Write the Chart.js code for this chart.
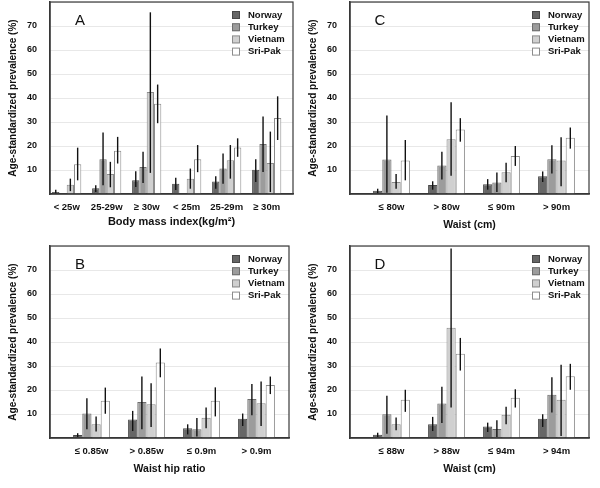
<!DOCTYPE html>
<html>
<head>
<meta charset="utf-8">
<script src="https://cdn.jsdelivr.net/npm/chart.js@4.4.1/dist/chart.umd.min.js"></script>
<style>
  body { margin: 0; background: #fff; }
  #wrap { width: 600px; height: 488px; display: grid; grid-template-columns: 300px 300px; grid-template-rows: 244px 244px; }
  canvas { display: block; }
</style>
</head>
<body>
<div id="wrap">
  <canvas id="chartA" width="300" height="244"></canvas>
  <canvas id="chartC" width="300" height="244"></canvas>
  <canvas id="chartB" width="300" height="244"></canvas>
  <canvas id="chartD" width="300" height="244"></canvas>
</div>
<script>
// --- data (rows: Norway, Turkey, Vietnam, Sri-Pak) ---
const countries = ['Norway', 'Turkey', 'Vietnam', 'Sri-Pak'];
const yTicks = [10, 20, 30, 40, 50, 60, 70];

const catsA = ['< 25w', '25-29w', '\u2265 30w', '< 25m', '25-29m', '\u2265 30m'];
const valuesA = [
    [0.8, 2.4, 5.7, 4.3, 5.2, 10.1],
    [null, 14.5, 11.3, null, 10.6, 20.8],
    [3.9, 8.3, 42.5, 6.4, 14.1, 12.9],
    [12.4, 18.0, 37.6, 14.5, 19.4, 31.7]
];
const lowA = [
    [0.2, 0.8, 2.9, 1.7, 2.2, 5.0],
    [null, 3.6, 4.6, null, 4.3, 9.2],
    [1.2, 2.8, 8.8, 2.2, 6.4, 0.8],
    [5.7, 12.7, 29.5, 9.1, 15.5, 22.5]
];
const highA = [
    [1.8, 3.6, 9.5, 6.8, 7.4, 14.5],
    [null, 25.6, 17.6, null, 16.9, 32.3],
    [6.4, 13.4, 75.7, 10.6, 20.4, 26.0],
    [19.3, 23.8, 45.6, 20.4, 23.2, 40.7]
];

const catsC = ['\u2264 80w', '> 80w', '\u2264 90m', '> 90m'];
const valuesC = [
    [1.4, 3.8, 4.1, 7.4],
    [14.4, 11.9, 4.8, 14.5],
    [5.0, 22.8, 9.1, 14.0],
    [14.0, 26.9, 15.8, 23.4]
];
const lowC = [
    [0.3, 1.8, 1.8, 5.0],
    [0.5, 6.0, 0.8, 8.5],
    [2.2, 7.6, 4.9, 3.2],
    [5.7, 21.8, 11.7, 18.9]
];
const highC = [
    [2.2, 5.3, 6.2, 9.4],
    [32.7, 17.6, 9.0, 20.3],
    [8.3, 38.2, 13.0, 23.6],
    [22.5, 31.6, 20.0, 27.7]
];

const catsB = ['\u2264 0.85w', '> 0.85w', '\u2264 0.9m', '> 0.9m'];
const valuesB = [
    [1.3, 7.7, 4.1, 8.0],
    [10.2, 15.0, 3.6, 16.2],
    [5.7, 14.1, 8.4, 14.5],
    [15.5, 31.5, 15.5, 22.1]
];
const lowB = [
    [0.4, 2.9, 1.5, 5.0],
    [3.6, 3.6, 0.6, 9.5],
    [2.7, 4.6, 4.1, 5.0],
    [10.1, 25.3, 9.0, 18.3]
];
const highB = [
    [2.0, 11.3, 5.7, 10.2],
    [16.6, 25.6, 8.3, 22.5],
    [9.0, 22.8, 12.7, 23.5],
    [21.0, 37.3, 21.1, 25.6]
];

const catsD = ['\u2264 88w', '> 88w', '\u2264 94m', '> 94m'];
const valuesD = [
    [1.4, 5.7, 4.8, 8.0],
    [9.9, 14.4, 3.8, 18.0],
    [5.7, 45.9, 9.7, 15.9],
    [15.9, 35.1, 16.8, 25.7]
];
const lowD = [
    [0.4, 2.9, 2.5, 4.6],
    [1.8, 6.2, 0.4, 10.6],
    [3.2, 12.7, 5.7, 0.8],
    [10.9, 28.1, 12.7, 20.1]
];
const highD = [
    [2.2, 8.8, 6.4, 9.9],
    [17.6, 21.4, 7.4, 25.3],
    [8.5, 79.0, 13.0, 30.5],
    [20.1, 41.7, 20.3, 30.9]
];

// --- styles ---
const FONT = "'Liberation Sans', Arial, sans-serif";
const fills = ['#666666', '#9c9c9c', '#d0d0d0', '#ffffff'];
const borders = ['#474747', '#6e6e6e', '#8c8c8c', '#8c8c8c'];

// error bars, frame, legend and panel letter
const extrasPlugin = {
    id: 'extras',
    afterDatasetsDraw(chart, args, opts) {
        const ctx = chart.ctx;
        const yScale = chart.scales.y;
        ctx.save();
        ctx.strokeStyle = '#111';
        ctx.lineWidth = 1.4;
        chart.data.datasets.forEach(function(ds, i) {
            const meta = chart.getDatasetMeta(i);
            meta.data.forEach(function(bar, j) {
                const lo = ds.low[j], hi = ds.high[j];
                if (lo == null || hi == null) return;
                ctx.beginPath();
                ctx.moveTo(bar.x, yScale.getPixelForValue(lo));
                ctx.lineTo(bar.x, yScale.getPixelForValue(hi));
                ctx.stroke();
            });
        });
        ctx.restore();
    },
    afterDraw(chart, args, opts) {
        const ctx = chart.ctx;
        const area = chart.chartArea;
        ctx.save();
        ctx.strokeStyle = '#3a3a3a';
        ctx.lineWidth = 1.2;
        ctx.strokeRect(area.left, area.top, area.right - area.left, area.bottom - area.top);

        // legend
        ctx.font = 'bold 9.5px ' + FONT;
        ctx.textBaseline = 'middle';
        countries.forEach(function(name, k) {
            const y = 15 + k * 12.2;
            ctx.fillStyle = fills[k];
            ctx.fillRect(232, y - 3.5, 7.5, 7.5);
            ctx.strokeStyle = borders[k];
            ctx.lineWidth = 1;
            ctx.strokeRect(232.5, y - 3.5, 7, 7);
            ctx.fillStyle = '#111';
            ctx.fillText(name, 248, y);
        });

        // panel letter
        ctx.font = '15px ' + FONT;
        ctx.textAlign = 'center';
        ctx.fillStyle = '#111';
        ctx.fillText(opts.letter, 80, 21);
        ctx.restore();
    }
};

function makePanel(id, cats, values, lows, highs, xTitle, letter, layout) {
    const datasets = countries.map(function(name, k) {
        return {
            label: name,
            data: values[k].map(function(v, i) { return { x: i, y: v }; }),
            low: lows[k],
            high: highs[k],
            backgroundColor: fills[k],
            borderColor: borders[k],
            borderWidth: 1,
            borderSkipped: 'bottom',
            barPercentage: 1.0,
            categoryPercentage: layout.catPct
        };
    });

    return new Chart(document.getElementById(id), {
        type: 'bar',
        data: { datasets: datasets },
        options: {
            responsive: false,
            animation: false,
            layout: { padding: { left: 0, right: layout.padRight, top: 2, bottom: 0 } },
            plugins: {
                legend: { display: false },
                tooltip: { enabled: false },
                extras: { letter: letter }
            },
            scales: {
                x: {
                    type: 'linear',
                    min: layout.xMin,
                    max: layout.xMax,
                    offset: false,
                    grid: { display: false, drawTicks: false },
                    border: { display: true, color: '#333', width: 1.5 },
                    ticks: {
                        stepSize: 1,
                        includeBounds: false,
                        autoSkip: false,
                        maxRotation: 0,
                        padding: 8,
                        color: '#111',
                        font: { family: FONT, size: 9.5, weight: 'bold' },
                        callback: function(v) { return Number.isInteger(v) ? cats[v] : ''; }
                    },
                    title: {
                        display: true,
                        text: xTitle,
                        color: '#111',
                        font: { family: FONT, size: layout.titleSize, weight: 'bold' },
                        padding: { top: 0, bottom: layout.titlePad }
                    },
                    afterFit: function(s) {
                        s.height = 50;
                        s.paddingLeft = 0;
                        s.paddingRight = 0;
                    }
                },
                y: {
                    min: 0,
                    max: 80,
                    grid: { color: '#e8e8e8', drawTicks: false },
                    border: { display: true, color: '#333', width: 1.5 },
                    ticks: {
                        stepSize: 10,
                        padding: 13,
                        color: '#111',
                        font: { family: FONT, size: 9, weight: 'bold' },
                        callback: function(v) { return yTicks.includes(v) ? String(v) : ''; }
                    },
                    title: {
                        display: true,
                        text: 'Age-standardized prevalence (%)',
                        color: '#111',
                        font: { family: FONT, size: 10, weight: 'bold' },
                        padding: { top: 7, bottom: 0 }
                    },
                    afterFit: function(s) {
                        s.width = 50;
                        s.paddingTop = 0;
                        s.paddingBottom = 0;
                    }
                }
            }
        },
        plugins: [extrasPlugin]
    });
}

const wideLayout = { xMin: -0.4175, xMax: 5.6575, catPct: 0.73, padRight: 7, titlePad: 15.4, titleSize: 11 };
const quadLayout = { xMin: -0.7545, xMax: 3.591, catPct: 0.67, padRight: 11, titlePad: 12.7, titleSize: 10.5 };

makePanel('chartA', catsA, valuesA, lowA, highA, 'Body mass index(kg/m\u00b2)', 'A', wideLayout);
makePanel('chartC', catsC, valuesC, lowC, highC, 'Waist (cm)', 'C', quadLayout);
makePanel('chartB', catsB, valuesB, lowB, highB, 'Waist hip ratio', 'B', quadLayout);
makePanel('chartD', catsD, valuesD, lowD, highD, 'Waist (cm)', 'D', quadLayout);
</script>
</body>
</html>
